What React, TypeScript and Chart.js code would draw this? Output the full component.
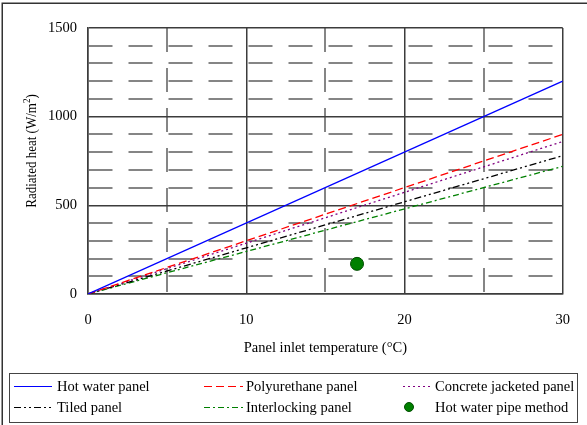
import React, { useEffect, useRef } from 'react';
import { Chart, registerables } from 'chart.js';

Chart.register(...registerables);

// ---- data ----
const temperatures = [0, 30];
const hotWaterPanel = [0, 1200];
const polyurethanePanel = [0, 900];
const concreteJacketedPanel = [0, 860];
const tiledPanel = [0, 780];
const interlockingPanel = [0, 720];
const pipeMethodTemperature = [17];
const pipeMethodHeat = [170];

const seriesNames = [
  'Hot water panel',
  'Polyurethane panel',
  'Concrete jacketed panel',
  'Tiled panel',
  'Interlocking panel',
  'Hot water pipe method',
];
const xTickLabels = ['0', '10', '20', '30'];
const yTickLabels = ['0', '500', '1000', '1500'];
const xTitle = 'Panel inlet temperature (°C)';
const yTitleMain = 'Radiated heat (W/m';
const yTitleSup = '2';
const yTitleEnd = ')';

const FONT = "'Liberation Serif', 'Times New Roman', serif";
const MAJOR = '#3c3c3c';
const MINOR = '#858585';

const toPoints = (xs: number[], ys: number[]) => xs.map((x, i) => ({ x, y: ys[i] }));

const decorPlugin = {
  id: 'decor',
  beforeDraw(chart: any) {
    const ctx = chart.ctx;
    ctx.save();
    ctx.strokeStyle = '#333';
    ctx.lineWidth = 1.5;
    ctx.beginPath();
    ctx.moveTo(2.25, 425);
    ctx.lineTo(2.25, 3.25);
    ctx.lineTo(587, 3.25);
    ctx.stroke();
    ctx.restore();
  },
  afterDraw(chart: any) {
    const ctx = chart.ctx;
    // y-axis title with superscript
    ctx.save();
    ctx.translate(31, 151);
    ctx.rotate(-Math.PI / 2);
    ctx.scale(1, 1.12);
    ctx.fillStyle = '#000';
    ctx.textBaseline = 'alphabetic';
    ctx.textAlign = 'left';
    const mainFont = `13px ${FONT}`;
    const supFont = `9px ${FONT}`;
    ctx.font = mainFont;
    const w1 = ctx.measureText(yTitleMain).width;
    const w3 = ctx.measureText(yTitleEnd).width;
    ctx.font = supFont;
    const w2 = ctx.measureText(yTitleSup).width;
    const total = w1 + w2 + w3;
    let x = -total / 2;
    const base = 4.5;
    ctx.font = mainFont;
    ctx.fillText(yTitleMain, x, base);
    x += w1;
    ctx.font = supFont;
    ctx.fillText(yTitleSup, x, base - 5);
    x += w2;
    ctx.font = mainFont;
    ctx.fillText(yTitleEnd, x, base);
    ctx.restore();

    // legend
    ctx.save();
    ctx.strokeStyle = '#444';
    ctx.lineWidth = 1;
    ctx.strokeRect(9.5, 373.5, 568, 49);
    const lineStart = [14, 204, 403];
    const lineEnd = [52, 243, 432];
    const textX = [57, 246, 435];
    const rowY = [386, 407];
    ctx.font = `14.5px ${FONT}`;
    ctx.textBaseline = 'middle';
    ctx.textAlign = 'left';
    chart.data.datasets.forEach((ds: any, i: number) => {
      const row = Math.floor(i / 3);
      const col = i % 3;
      const y = rowY[row];
      if (ds.showLine === false) {
        ctx.beginPath();
        ctx.fillStyle = ds.backgroundColor;
        ctx.strokeStyle = ds.borderColor;
        ctx.lineWidth = 1;
        ctx.arc(409, y, 4.5, 0, Math.PI * 2);
        ctx.fill();
        ctx.stroke();
      } else {
        ctx.beginPath();
        ctx.strokeStyle = ds.borderColor;
        ctx.lineWidth = 1.2;
        ctx.setLineDash(ds.borderDash || []);
        ctx.moveTo(lineStart[col], y + 0.5);
        ctx.lineTo(lineEnd[col], y + 0.5);
        ctx.stroke();
        ctx.setLineDash([]);
      }
      ctx.fillStyle = '#000';
      ctx.fillText(ds.label, textX[col], y + 1);
    });
    ctx.restore();
  },
};

export default function App() {
  const ref = useRef<HTMLCanvasElement | null>(null);

  useEffect(() => {
    document.body.style.margin = '0';
    if (!ref.current) return;
    const isMajorX = (v: number) => xTickLabels.includes(String(v));
    const isMajorY = (v: number) => yTickLabels.includes(String(v));
    const lineDs = (label: string, ys: number[], color: string, dash: number[]) => ({
      label,
      data: toPoints(temperatures, ys),
      borderColor: color,
      backgroundColor: color,
      borderWidth: 1.3,
      borderDash: dash,
      pointRadius: 0,
      fill: false,
      tension: 0,
    });
    const chart = new Chart(ref.current, {
      type: 'line',
      data: {
        datasets: [
          lineDs(seriesNames[0], hotWaterPanel, '#0000ff', []),
          lineDs(seriesNames[1], polyurethanePanel, '#ff0000', [8, 4]),
          lineDs(seriesNames[2], concreteJacketedPanel, '#800080', [2, 3]),
          lineDs(seriesNames[3], tiledPanel, '#000000', [7, 3, 2, 3, 2, 3]),
          lineDs(seriesNames[4], interlockingPanel, '#008000', [6, 3, 2, 3]),
          {
            label: seriesNames[5],
            data: toPoints(pipeMethodTemperature, pipeMethodHeat),
            showLine: false,
            borderColor: '#004d00',
            backgroundColor: '#008000',
            borderWidth: 1,
            pointRadius: 6.5,
            pointHoverRadius: 6.5,
          } as any,
        ],
      },
      options: {
        animation: false,
        responsive: false,
        devicePixelRatio: 1,
        events: [],
        layout: { padding: { top: 28, right: 19, left: 0, bottom: 0 } },
        plugins: {
          legend: { display: false },
          tooltip: { enabled: false },
          title: { display: false },
        },
        scales: {
          x: {
            type: 'linear',
            min: 0,
            max: 30,
            afterFit: (s: any) => {
              s.height = 131;
            },
            ticks: {
              stepSize: 5,
              autoSkip: false,
              maxRotation: 0,
              padding: 17,
              color: '#000',
              font: { family: FONT, size: 14.5 },
              callback: (v: any) => (isMajorX(Number(v)) ? String(v) : ''),
            },
            grid: {
              drawTicks: false,
              lineWidth: (c: any) => (c.tick && !isMajorX(c.tick.value) ? 2 : 1.5),
              color: (c: any) => (c.tick && !isMajorX(c.tick.value) ? MINOR : MAJOR),
            },
            border: {
              display: true,
              color: MAJOR,
              width: 1.5,
              dash: (c: any) => (c.tick && !isMajorX(c.tick.value) ? [24, 16] : []),
            },
            title: {
              display: true,
              text: xTitle,
              color: '#000',
              font: { family: FONT, size: 14.5 },
              padding: { top: 0, bottom: 68 },
            },
          },
          y: {
            type: 'linear',
            min: 0,
            max: 1500,
            afterFit: (s: any) => {
              s.width = 88;
            },
            ticks: {
              stepSize: 100,
              autoSkip: false,
              padding: 11,
              color: '#000',
              font: { family: FONT, size: 14.5 },
              callback: (v: any) => (isMajorY(Number(v)) ? String(v) : ''),
            },
            grid: {
              drawTicks: false,
              lineWidth: (c: any) => (c.tick && !isMajorY(c.tick.value) ? 2 : 1.5),
              color: (c: any) => (c.tick && !isMajorY(c.tick.value) ? MINOR : MAJOR),
            },
            border: {
              display: true,
              color: MAJOR,
              width: 1.5,
              dash: (c: any) => (c.tick && !isMajorY(c.tick.value) ? [24, 16] : []),
            },
          },
        },
      } as any,
      plugins: [decorPlugin],
    });
    return () => chart.destroy();
  }, []);

  return (
    <div style={{ width: 587, height: 425, position: 'relative' }}>
      <canvas ref={ref} width={587} height={425} style={{ display: 'block', width: 587, height: 425 }} />
    </div>
  );
}
